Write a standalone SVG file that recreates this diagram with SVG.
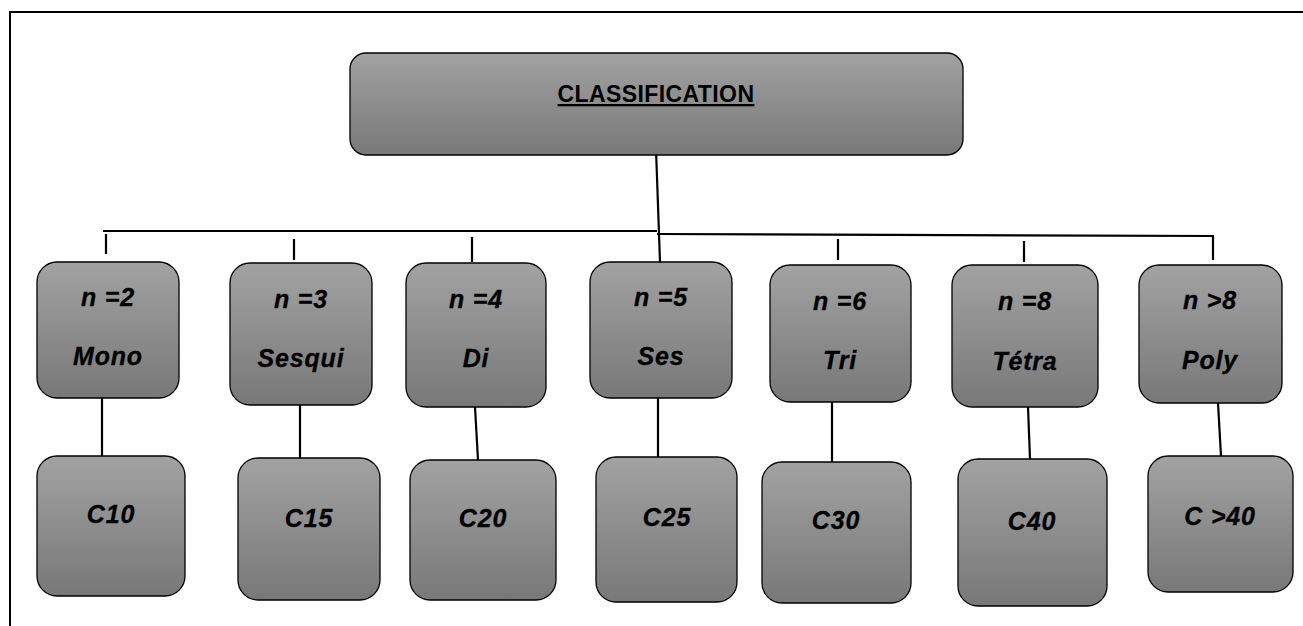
<svg xmlns="http://www.w3.org/2000/svg" width="1303" height="626" viewBox="0 0 1303 626">
  <defs>
    <linearGradient id="boxFill" x1="0" y1="0" x2="0" y2="1">
      <stop offset="0" stop-color="#a2a2a2"/>
      <stop offset="1" stop-color="#787878"/>
    </linearGradient>
    <style>
      .box { fill: url(#boxFill); stroke: #000; stroke-width: 1.3; }
      .lbl { font-family: "Liberation Sans", Arial, sans-serif; font-size: 25px; font-weight: bold; font-style: italic; fill: #000; stroke: #000; stroke-width: 0.3; text-anchor: middle; letter-spacing: 0.8px; }
      .title { font-family: "Liberation Sans", Arial, sans-serif; font-size: 23px; font-weight: bold; fill: #000; text-anchor: middle; text-decoration: underline; letter-spacing: 0.4px; }
      .wire { stroke: #000; stroke-width: 2.2; fill: none; }
      .frame { stroke: #000; stroke-width: 2; fill: none; }
    </style>
  </defs>

  <rect width="1303" height="626" fill="#fff"/>

  <!-- page frame -->
  <path class="frame" d="M10,626 V12 H1303"/>

  <!-- connectors -->
  <g id="connectors">
    <path class="wire" d="M656,149 L660,262"/>
    <path class="wire" d="M103,231 H657"/>
    <path class="wire" d="M657,234 L1213,236 V260"/>
    <path class="wire" d="M106,234 V254"/>
    <path class="wire" d="M294,239 V260"/>
    <path class="wire" d="M472,237 V262"/>
    <path class="wire" d="M838,239 V260"/>
    <path class="wire" d="M1024,241 V262"/>
    <path class="wire" d="M102,398 V460"/>
    <path class="wire" d="M300,405 V458"/>
    <path class="wire" d="M475,407 L478,460"/>
    <path class="wire" d="M658,398 V457"/>
    <path class="wire" d="M832,402 V462"/>
    <path class="wire" d="M1028,407 L1030,459"/>
    <path class="wire" d="M1218,403 L1221,456"/>
  </g>

  <!-- root -->
  <g id="classification">
    <rect class="box" x="350" y="53" width="613" height="102" rx="16"/>
    <text class="title" x="656" y="102">CLASSIFICATION</text>
  </g>

  <!-- first level: number of units -->
  <g id="mono">
    <rect class="box" x="37" y="262" width="142" height="136" rx="20"/>
    <text class="lbl" x="108" y="306">n =2</text>
    <text class="lbl" x="108" y="365">Mono</text>
  </g>
  <g id="sesqui">
    <rect class="box" x="230" y="263" width="142" height="142" rx="20"/>
    <text class="lbl" x="301" y="308">n =3</text>
    <text class="lbl" x="301" y="367">Sesqui</text>
  </g>
  <g id="di">
    <rect class="box" x="406" y="263" width="140" height="144" rx="20"/>
    <text class="lbl" x="476" y="308">n =4</text>
    <text class="lbl" x="476" y="367">Di</text>
  </g>
  <g id="ses">
    <rect class="box" x="590" y="262" width="142" height="136" rx="20"/>
    <text class="lbl" x="661" y="306">n =5</text>
    <text class="lbl" x="661" y="365">Ses</text>
  </g>
  <g id="tri">
    <rect class="box" x="770" y="265" width="141" height="137" rx="20"/>
    <text class="lbl" x="840" y="310">n =6</text>
    <text class="lbl" x="840" y="369">Tri</text>
  </g>
  <g id="tetra">
    <rect class="box" x="952" y="265" width="146" height="142" rx="20"/>
    <text class="lbl" x="1025" y="310">n =8</text>
    <text class="lbl" x="1025" y="370">Tétra</text>
  </g>
  <g id="poly">
    <rect class="box" x="1139" y="265" width="143" height="138" rx="20"/>
    <text class="lbl" x="1210" y="309">n &gt;8</text>
    <text class="lbl" x="1210" y="369">Poly</text>
  </g>

  <!-- second level: carbon counts -->
  <g id="c10">
    <rect class="box" x="37" y="456" width="148" height="140" rx="20"/>
    <text class="lbl" x="111" y="523">C10</text>
  </g>
  <g id="c15">
    <rect class="box" x="238" y="458" width="142" height="142" rx="20"/>
    <text class="lbl" x="309" y="527">C15</text>
  </g>
  <g id="c20">
    <rect class="box" x="410" y="460" width="146" height="140" rx="20"/>
    <text class="lbl" x="483" y="527">C20</text>
  </g>
  <g id="c25">
    <rect class="box" x="596" y="457" width="141" height="145" rx="20"/>
    <text class="lbl" x="667" y="526">C25</text>
  </g>
  <g id="c30">
    <rect class="box" x="762" y="462" width="149" height="141" rx="20"/>
    <text class="lbl" x="836" y="529">C30</text>
  </g>
  <g id="c40">
    <rect class="box" x="958" y="459" width="149" height="147" rx="20"/>
    <text class="lbl" x="1032" y="530">C40</text>
  </g>
  <g id="cpoly">
    <rect class="box" x="1148" y="456" width="145" height="136" rx="20"/>
    <text class="lbl" x="1220" y="525">C &gt;40</text>
  </g>
</svg>
